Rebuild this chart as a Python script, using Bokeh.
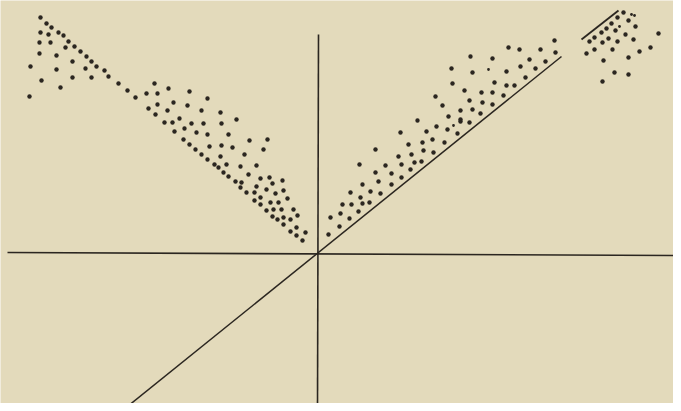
import re
from bokeh.plotting import figure
from bokeh.models import Range1d
from bokeh.embed import file_html
from bokeh.resources import INLINE

# Data coordinates: origin where the axes cross, y up.
left_x = [-277, -271, -266, -277, -269, -259, -254, -249, -278, -267, -252, -243, -237, -278, -261,
          -231, -245, -226, -287, -221, -261, -232, -213, -209, -245, -226, -276, -199, -257, -190,
          -288, -182, -171, -163, -160, -149, -169, -160, -150, -162, -153, -128, -110, -144, -130,
          -116, -97, -145, -138, -126, -114, -96, -81, -143, -133, -121, -110, -89, -134, -128,
          -108, -96, -85, -68, -50, -122, -116, -110, -97, -73, -54, -103, -99, -91, -77,
          -61, -94, -89, -69, -82, -76, -77, -71, -63, -61, -57, -48, -35, -51, -45,
          -42, -34, -57, -47, -39, -30, -63, -57, -51, -44, -36, -24, -45, -40, -34,
          -27, -20, -34, -21, -27, -21, -12, -15]
left_y = [236, 230, 226, 221, 219, 221, 218, 212, 211, 211, 206, 207, 202, 200, 198,
          197, 192, 192, 187, 187, 184, 185, 183, 177, 176, 176, 173, 170, 166, 163,
          157, 156, 160, 170, 160, 165, 145, 149, 143, 139, 131, 162, 155, 151, 148,
          143, 141, 131, 135, 130, 130, 130, 134, 122, 125, 121, 119, 119, 114, 109,
          107, 108, 106, 113, 114, 104, 99, 94, 97, 99, 104, 89, 86, 89, 87,
          88, 81, 77, 79, 72, 71, 66, 61, 61, 67, 75, 76, 73, 64, 70,
          60, 63, 56, 51, 51, 55, 53, 49, 43, 44, 44, 44, 37, 34, 36,
          34, 38, 29, 26, 22, 18, 21, 13]

right_x = [100, 119, 109, 130, 143, 152, 140, 83, 91, 105, 115, 127, 58, 106, 116,
           81, 94, 42, 68, 84, 97, 104, 58, 74, 93, 61, 84, 45, 74, 53,
           63, 33, 43, 25, 34, 45, 52, 23, 41, 13, 32, 22, 11,
           237, 238, 191, 202, 223, 212, 228, 153, 175, 134, 155, 189, 203, 218, 208,
           135, 177, 189, 197, 147, 164, 175, 186, 118, 152, 165, 175, 125, 143, 155,
           163, 131, 143]
right_y = [133, 127, 122, 124, 132, 131, 120, 121, 109, 111, 114, 111, 104, 103, 101,
           97, 99, 89, 88, 89, 91, 92, 81, 80, 84, 72, 76, 69, 69, 62,
           60, 61, 56, 49, 49, 50, 51, 40, 42, 36, 35, 27, 19,
           213, 201, 206, 204, 204, 194, 192, 197, 195, 185, 181, 182, 187, 185, 176,
           170, 171, 168, 168, 163, 161, 161, 158, 157, 153, 151, 149, 148, 143, 144,
           140, 137, 134]

top_x = [306, 300, 311, 294, 318, 289, 284, 298, 308, 277, 272, 285, 291, 300, 316,
         341, 333, 322, 269, 277, 295, 286, 311, 297, 311, 285]
top_y = [241, 236, 233, 230, 227, 225, 221, 223, 219, 216, 212, 211, 215, 212, 214,
         220, 206, 202, 200, 204, 204, 193, 196, 181, 179, 172]

small_x = [136, 171, 314, 317, 302]
small_y = [128, 184, 239, 238, 227]

trend_x = [-195, 244]
trend_y = [-157, 197]
short_x = [264, 301]
short_y = [214, 243]
haxis_x = [-310, 364]
haxis_y = [1, -2]
vaxis_x = [1, 0]
vaxis_y = [219, -158]

BG = "#e3dabb"
INK = "#2b2620"

p = figure(width=673, height=403, output_backend="svg", toolbar_location=None,
           x_range=Range1d(-317, 356), y_range=Range1d(-150, 253),
           min_border=0, outline_line_color=None,
           background_fill_color=BG, border_fill_color=BG)
p.axis.visible = False
p.grid.visible = False

p.line(haxis_x, haxis_y, line_color=INK, line_width=1.6)
p.line(vaxis_x, vaxis_y, line_color=INK, line_width=1.6)
p.line(trend_x, trend_y, line_color=INK, line_width=1.5)
p.line(short_x, short_y, line_color=INK, line_width=1.8)

for xs, ys in ((left_x, left_y), (right_x, right_y), (top_x, top_y)):
    p.scatter(xs, ys, size=4.4, fill_color=INK, line_color=None)
p.scatter(small_x, small_y, size=2.8, fill_color=INK, line_color=None)

html = file_html(p, INLINE)
html = re.sub(r"<body([^>]*)>", r'<body\1 style="background-color:%s;">' % BG, html, count=1)
open("out.html", "w").write(html)
